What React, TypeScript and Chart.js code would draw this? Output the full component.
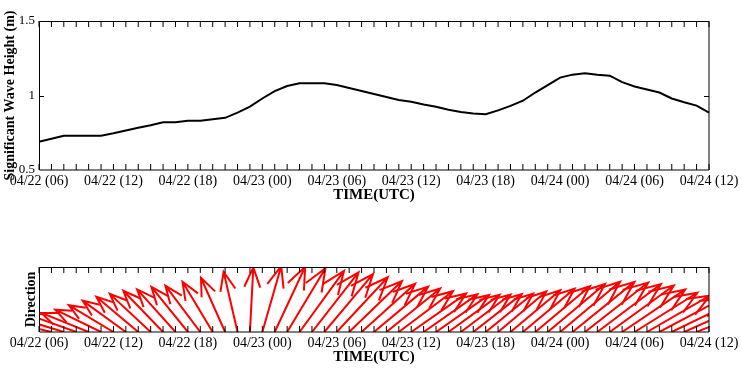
import React, { useEffect, useRef } from 'react';
import { Chart, registerables } from 'chart.js';

Chart.register(...registerables);

// ---------- DATA ----------
const timeLabels: string[] = [
  '04/22 06', '04/22 07', '04/22 08', '04/22 09', '04/22 10', '04/22 11',
  '04/22 12', '04/22 13', '04/22 14', '04/22 15', '04/22 16', '04/22 17',
  '04/22 18', '04/22 19', '04/22 20', '04/22 21', '04/22 22', '04/22 23',
  '04/23 00', '04/23 01', '04/23 02', '04/23 03', '04/23 04', '04/23 05',
  '04/23 06', '04/23 07', '04/23 08', '04/23 09', '04/23 10', '04/23 11',
  '04/23 12', '04/23 13', '04/23 14', '04/23 15', '04/23 16', '04/23 17',
  '04/23 18', '04/23 19', '04/23 20', '04/23 21', '04/23 22', '04/23 23',
  '04/24 00', '04/24 01', '04/24 02', '04/24 03', '04/24 04', '04/24 05',
  '04/24 06', '04/24 07', '04/24 08', '04/24 09', '04/24 10', '04/24 11',
  '04/24 12',
];

// significant wave height (m)
const waveHeight: number[] = [
  0.69, 0.71, 0.73, 0.73, 0.73, 0.73,
  0.746, 0.765, 0.783, 0.80, 0.82, 0.82,
  0.83, 0.83, 0.84, 0.85, 0.885, 0.925,
  0.98, 1.03, 1.064, 1.082, 1.082, 1.082,
  1.07, 1.05, 1.03, 1.01, 0.99, 0.97,
  0.958, 0.94, 0.925, 0.905, 0.89, 0.88,
  0.874, 0.90, 0.93, 0.965, 1.02, 1.07,
  1.12, 1.14, 1.149, 1.14, 1.133, 1.09,
  1.06, 1.04, 1.02, 0.98, 0.955, 0.932,
  0.885,
];

// wave direction arrow angle (deg, clockwise from up)
const waveDir: number[] = [
  -78, -76, -73, -70, -68, -64,
  -59, -54, -50, -47, -44, -42,
  -39, -37, -31, -24, -13, 3,
  16, 25, 31, 36, 38, 40,
  43, 46, 48, 50, 51, 53,
  55, 55, 55, 54, 53, 52,
  51, 50, 50, 50, 50, 50,
  50, 51, 52, 53, 54, 56,
  58, 60, 62, 64, 66, 68,
  70,
];

const heightTicks: number[] = [0.5, 1, 1.5];
const heightTickLabels: string[] = ['0.5', '1', '1.5'];
const labelEveryHours = 6;
const directionPanelMax = 0.93; // m shown across direction panel height

const FONT = "'Liberation Serif', 'Times New Roman', serif";

function formatTick(label: string): string {
  const [md, hh] = label.split(' ');
  return `${md} (${hh})`;
}

// ---------- PLUGINS ----------
const frameTicksPlugin = {
  id: 'frameTicks',
  afterDraw(chart: any, _args: any, opts: any) {
    const { ctx, chartArea } = chart;
    const { left, right, top, bottom } = chartArea;
    const xs = chart.scales.x;
    ctx.save();
    ctx.strokeStyle = '#000';
    ctx.lineWidth = 1;
    for (let i = 0; i < timeLabels.length; i++) {
      const px = xs.getPixelForValue(i);
      ctx.beginPath();
      ctx.moveTo(px, bottom);
      ctx.lineTo(px, bottom - 6);
      ctx.moveTo(px, top);
      ctx.lineTo(px, top + 6);
      ctx.stroke();
    }
    if (opts && opts.yTicks) {
      const ys = chart.scales.y;
      for (const v of opts.yTicks) {
        const py = Math.round(ys.getPixelForValue(v)) + 0.5;
        ctx.beginPath();
        ctx.moveTo(left, py);
        ctx.lineTo(left + 5, py);
        ctx.moveTo(right, py);
        ctx.lineTo(right - 5, py);
        ctx.stroke();
      }
    }
    ctx.beginPath();
    ctx.moveTo(left + 0.5, bottom);
    ctx.lineTo(left + 0.5, top + 0.5);
    ctx.lineTo(right, top + 0.5);
    ctx.lineTo(right, bottom);
    ctx.lineTo(left + 0.5, bottom);
    ctx.stroke();
    ctx.restore();
  },
};

const arrowPlugin = {
  id: 'dirArrows',
  afterDatasetsDraw(chart: any) {
    const { ctx, chartArea } = chart;
    const xs = chart.scales.x;
    const ys = chart.scales.y;
    const k = ys.getPixelForValue(0) - ys.getPixelForValue(1);
    ctx.save();
    ctx.beginPath();
    ctx.rect(chartArea.left, chartArea.top, chartArea.right - chartArea.left, chartArea.bottom - chartArea.top);
    ctx.clip();
    ctx.strokeStyle = '#ff0000';
    ctx.lineWidth = 2;
    ctx.lineCap = 'butt';
    ctx.lineJoin = 'miter';
    for (let i = 0; i < timeLabels.length; i++) {
      const bx = xs.getPixelForValue(i);
      const by = ys.getPixelForValue(0);
      const L = waveHeight[i] * k;
      const th = (waveDir[i] * Math.PI) / 180;
      const tx = bx + L * Math.sin(th);
      const ty = by - L * Math.cos(th);
      const head = L * 0.33;
      const back = Math.atan2(by - ty, bx - tx);
      const a = (22 * Math.PI) / 180;
      ctx.beginPath();
      ctx.moveTo(bx, by);
      ctx.lineTo(tx, ty);
      ctx.moveTo(tx + head * Math.cos(back + a), ty + head * Math.sin(back + a));
      ctx.lineTo(tx, ty);
      ctx.lineTo(tx + head * Math.cos(back - a), ty + head * Math.sin(back - a));
      ctx.stroke();
    }
    ctx.restore();
  },
};

function xAxis() {
  return {
    type: 'category' as const,
    offset: false,
    grid: { display: false, drawTicks: false },
    border: { display: false },
    ticks: {
      autoSkip: false,
      maxRotation: 0,
      minRotation: 0,
      padding: 3,
      color: '#000',
      font: { family: FONT, size: 14 },
      callback: (_v: any, idx: number) =>
        idx % labelEveryHours === 0 ? formatTick(timeLabels[idx]) : '',
    },
    title: {
      display: true,
      text: 'TIME(UTC)',
      color: '#000',
      font: { family: FONT, size: 15, weight: 'bold' as const },
      padding: { top: 0, bottom: 0 },
    },
    afterFit: (s: any) => {
      s.height = 34;
      s.paddingLeft = 0;
      s.paddingRight = 0;
    },
  };
}

function WaveHeightChart() {
  const ref = useRef<HTMLCanvasElement>(null);
  useEffect(() => {
    const chart = new Chart(ref.current!, {
      type: 'line',
      data: {
        labels: timeLabels,
        datasets: [
          {
            data: waveHeight,
            borderColor: '#000',
            borderWidth: 2,
            pointRadius: 0,
            tension: 0,
            fill: false,
          },
        ],
      },
      options: {
        animation: false,
        responsive: false,
        devicePixelRatio: 1,
        layout: { padding: { top: 21, right: 33, bottom: 6, left: 0 } },
        plugins: {
          legend: { display: false },
          tooltip: { enabled: false },
          frameTicks: { yTicks: [1] },
        } as any,
        scales: {
          x: xAxis() as any,
          y: {
            type: 'linear',
            min: 0.5,
            max: 1.5,
            grid: { display: false, drawTicks: false },
            border: { display: false },
            afterBuildTicks: (s: any) => {
              s.ticks = heightTicks.map((v) => ({ value: v }));
            },
            ticks: {
              padding: 4,
              color: '#000',
              font: { family: FONT, size: 13 },
              callback: (v: any) => heightTickLabels[heightTicks.indexOf(Number(v))] ?? '',
            },
            title: {
              display: true,
              text: 'Significant Wave Height (m)',
              color: '#000',
              font: { family: FONT, size: 14, weight: 'bold' },
              padding: { top: 2, bottom: 0 },
            },
            afterFit: (s: any) => {
              s.width = 39;
              s.paddingTop = 0;
              s.paddingBottom = 0;
            },
          },
        },
      },
      plugins: [frameTicksPlugin],
    });
    return () => chart.destroy();
  }, []);
  return <canvas ref={ref} width={742} height={210} style={{ display: 'block', width: 742, height: 210 }} />;
}

function DirectionChart() {
  const ref = useRef<HTMLCanvasElement>(null);
  useEffect(() => {
    const chart = new Chart(ref.current!, {
      type: 'line',
      data: {
        labels: timeLabels,
        datasets: [
          {
            data: waveHeight,
            showLine: false,
            pointRadius: 0,
            borderColor: 'rgba(0,0,0,0)',
          },
        ],
      },
      options: {
        animation: false,
        responsive: false,
        devicePixelRatio: 1,
        layout: { padding: { top: 57, right: 33, bottom: 6, left: 0 } },
        plugins: {
          legend: { display: false },
          tooltip: { enabled: false },
        },
        scales: {
          x: xAxis() as any,
          y: {
            type: 'linear',
            min: 0,
            max: directionPanelMax,
            grid: { display: false, drawTicks: false },
            border: { display: false },
            ticks: { display: false },
            title: {
              display: true,
              text: 'Direction',
              color: '#000',
              font: { family: FONT, size: 14, weight: 'bold' },
              padding: { top: 23, bottom: 0 },
            },
            afterFit: (s: any) => {
              s.width = 39;
              s.paddingTop = 0;
              s.paddingBottom = 0;
            },
          },
        },
      },
      plugins: [arrowPlugin, frameTicksPlugin],
    });
    return () => chart.destroy();
  }, []);
  return <canvas ref={ref} width={742} height={162} style={{ display: 'block', width: 742, height: 162 }} />;
}

export default function App() {
  return (
    <div style={{ position: 'absolute', left: 0, top: 0, width: 742, height: 372, background: '#fff' }}>
      <WaveHeightChart />
      <DirectionChart />
    </div>
  );
}
